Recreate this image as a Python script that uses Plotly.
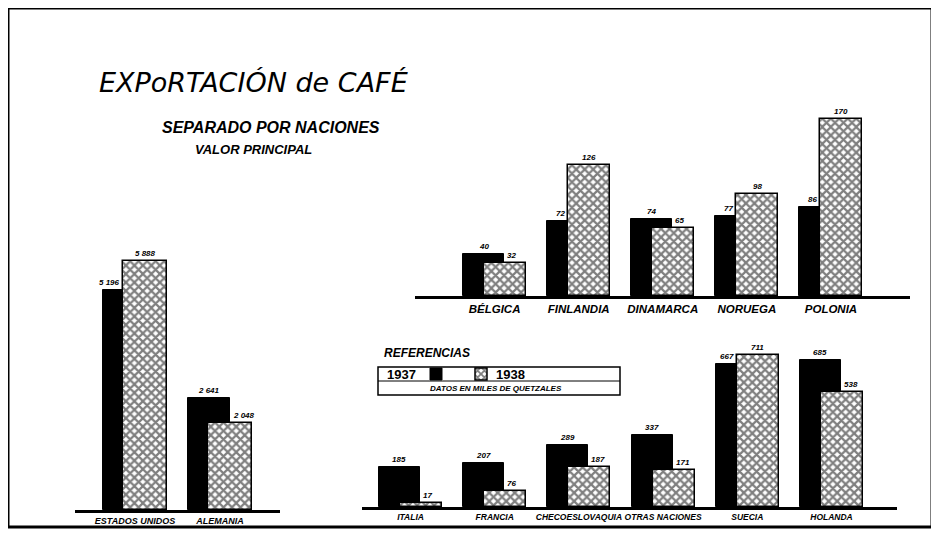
import plotly.graph_objects as go

# page has an 8px body margin: size the figure so the page fits the window
OFF = 8
W, H = 939 - 2 * OFF, 551 - 2 * OFF

# ---------------- data (miles de quetzales) ----------------
left_cats = ["ESTADOS UNIDOS", "ALEMANIA"]
left_1937 = [5196, 2641]
left_1938 = [5888, 2048]

top_cats = ["BÉLGICA", "FINLANDIA", "DINAMARCA", "NORUEGA", "POLONIA"]
top_1937 = [40, 72, 74, 77, 86]
top_1938 = [32, 126, 65, 98, 170]

bot_cats = ["ITALIA", "FRANCIA", "CHECOESLOVAQUIA", "OTRAS NACIONES", "SUECIA", "HOLANDA"]
bot_1937 = [185, 207, 289, 337, 667, 685]
bot_1938 = [17, 76, 187, 171, 711, 538]

years = ["1937", "1938"]


def fx(px):
    return (px - OFF) / W


def fy(py):
    return 1 - (py - OFF) / H


FONT = "Liberation Sans, Arial, sans-serif"
TFONT = "DejaVu Sans, sans-serif"

panels = [
    dict(cats=left_cats, a=left_1937, b=left_1938, xa="x", ya="y",
         xdom=(75, 280), ydom=(510, 240), xr=(-0.706, 1.706), yr=(0, 6372),
         bo=-0.376, bw=0.494, ho=-0.141, hw=0.518, legend=False, tsize=9),
    dict(cats=top_cats, a=top_1937, b=top_1938, xa="x2", ya="y2",
         xdom=(415, 910), ydom=(296, 110), xr=(-0.946, 4.94), yr=(0, 179),
         bo=-0.375, bw=0.488, ho=-0.125, hw=0.5, legend=False, tsize=11.5),
    dict(cats=bot_cats, a=bot_1937, b=bot_1938, xa="x3", ya="y3",
         xdom=(362, 897), ydom=(507, 340), xr=(-0.576, 5.778), yr=(0, 780),
         bo=-0.375, bw=0.488, ho=-0.125, hw=0.5, legend=True, tsize=8.5),
]

fig = go.Figure()
annotations = []
layout_axes = {}
lab_font = dict(family=FONT, size=8, color="black", weight="bold", style="italic")

for k, p in enumerate(panels):
    idx = list(range(len(p["cats"])))
    n = len(idx)
    fig.add_trace(go.Bar(
        x=idx, y=p["a"], xaxis=p["xa"], yaxis=p["ya"], name="",
        width=[p["bw"]] * n, offset=[p["bo"]] * n,
        marker=dict(color="black", line=dict(color="black", width=1)),
        showlegend=p["legend"], legendgroup="a", hoverinfo="skip"))
    fig.add_trace(go.Bar(
        x=idx, y=p["b"], xaxis=p["xa"], yaxis=p["ya"], name="",
        width=[p["hw"]] * n, offset=[p["ho"]] * n,
        marker=dict(color="white",
                    pattern=dict(shape="x", fgcolor="black", bgcolor="white",
                                 size=6, solidity=0.6),
                    line=dict(color="black", width=1.5)),
        showlegend=p["legend"], legendgroup="b", hoverinfo="skip"))

    # value labels
    for i in idx:
        va, vb = p["a"][i], p["b"][i]
        if va >= vb:
            a_kw = dict(x=i + p["bo"] + p["bw"] / 2, xanchor="center")
            b_kw = dict(x=i + p["bo"] + p["bw"], xanchor="left", xshift=1)
        else:
            a_kw = dict(x=i + p["ho"], xanchor="right", xshift=-1)
            b_kw = dict(x=i + p["ho"] + p["hw"] / 2, xanchor="center")
        for kw, yv in ((a_kw, va), (b_kw, vb)):
            annotations.append(dict(
                y=yv, xref=p["xa"], yref=p["ya"],
                text=f"{yv:,}".replace(",", " "), showarrow=False,
                yanchor="bottom", yshift=1, font=lab_font, **kw))

    xname = "xaxis" if p["xa"] == "x" else "xaxis" + p["xa"][1:]
    yname = "yaxis" if p["ya"] == "y" else "yaxis" + p["ya"][1:]
    layout_axes[xname] = dict(
        domain=[fx(p["xdom"][0]), fx(p["xdom"][1])], range=list(p["xr"]),
        anchor=p["ya"], tickmode="array", tickvals=idx, ticktext=p["cats"],
        showline=True, linecolor="black", linewidth=3, showgrid=False,
        zeroline=False, ticks="", fixedrange=True, tickangle=0,
        tickfont=dict(family=FONT, size=p["tsize"], color="black",
                      weight="bold", style="italic"))
    layout_axes[yname] = dict(
        domain=[fy(p["ydom"][0]), fy(p["ydom"][1])], range=list(p["yr"]),
        anchor=p["xa"], visible=False, showgrid=False, fixedrange=True)

# titles and reference texts
annotations += [
    dict(x=fx(97), y=fy(82), xref="paper", yref="paper", xanchor="left",
         yanchor="middle", showarrow=False, text="EXPoRTACIÓN de CAFÉ",
         font=dict(family=TFONT, size=27, color="black", style="italic")),
    dict(x=fx(160), y=fy(127), xref="paper", yref="paper", xanchor="left",
         yanchor="middle", showarrow=False, text="SEPARADO POR NACIONES",
         font=dict(family=FONT, size=16, color="black", style="italic",
                   weight="bold")),
    dict(x=fx(193), y=fy(149), xref="paper", yref="paper", xanchor="left",
         yanchor="middle", showarrow=False, text="VALOR PRINCIPAL",
         font=dict(family=FONT, size=13, color="black", style="italic",
                   weight="bold")),
    dict(x=fx(382), y=fy(353), xref="paper", yref="paper", xanchor="left",
         yanchor="middle", showarrow=False, text="REFERENCIAS",
         font=dict(family=FONT, size=12, color="black", style="italic",
                   weight="bold")),
    dict(x=fx(401), y=fy(374), xref="paper", yref="paper", xanchor="center",
         yanchor="middle", showarrow=False, text=years[0],
         font=dict(family=FONT, size=13, color="black", weight="bold")),
    dict(x=fx(510), y=fy(374), xref="paper", yref="paper", xanchor="center",
         yanchor="middle", showarrow=False, text=years[1],
         font=dict(family=FONT, size=13, color="black", weight="bold")),
    dict(x=fx(496), y=fy(388), xref="paper", yref="paper", xanchor="center",
         yanchor="middle", showarrow=False, text="DATOS EN MILES DE QUETZALES",
         font=dict(family=FONT, size=8, color="black", style="italic",
                   weight="bold")),
]

shapes = [
    # frame
    dict(type="rect", xref="paper", yref="paper", x0=0, x1=fx(932),
         y0=fy(527), y1=1, line=dict(color="black", width=3)),
    # reference box
    dict(type="rect", xref="paper", yref="paper", x0=fx(378), x1=fx(620),
         y0=fy(395), y1=fy(367), line=dict(color="black", width=1.5)),
    dict(type="line", xref="paper", yref="paper", x0=fx(378), x1=fx(620),
         y0=fy(381), y1=fy(381), line=dict(color="black", width=1)),
]

fig.update_layout(
    width=W, height=H, margin=dict(l=0, r=0, t=0, b=0),
    paper_bgcolor="white", plot_bgcolor="rgba(0,0,0,0)",
    barmode="overlay", bargap=0,
    annotations=annotations, shapes=shapes,
    legend=dict(orientation="h", x=fx(416), y=fy(374), xanchor="left",
                yanchor="middle", bgcolor="rgba(0,0,0,0)",
                font=dict(family=FONT, size=12, color="black"),
                itemwidth=30, tracegroupgap=0),
    **layout_axes,
)

fig.write_html("out.html")
